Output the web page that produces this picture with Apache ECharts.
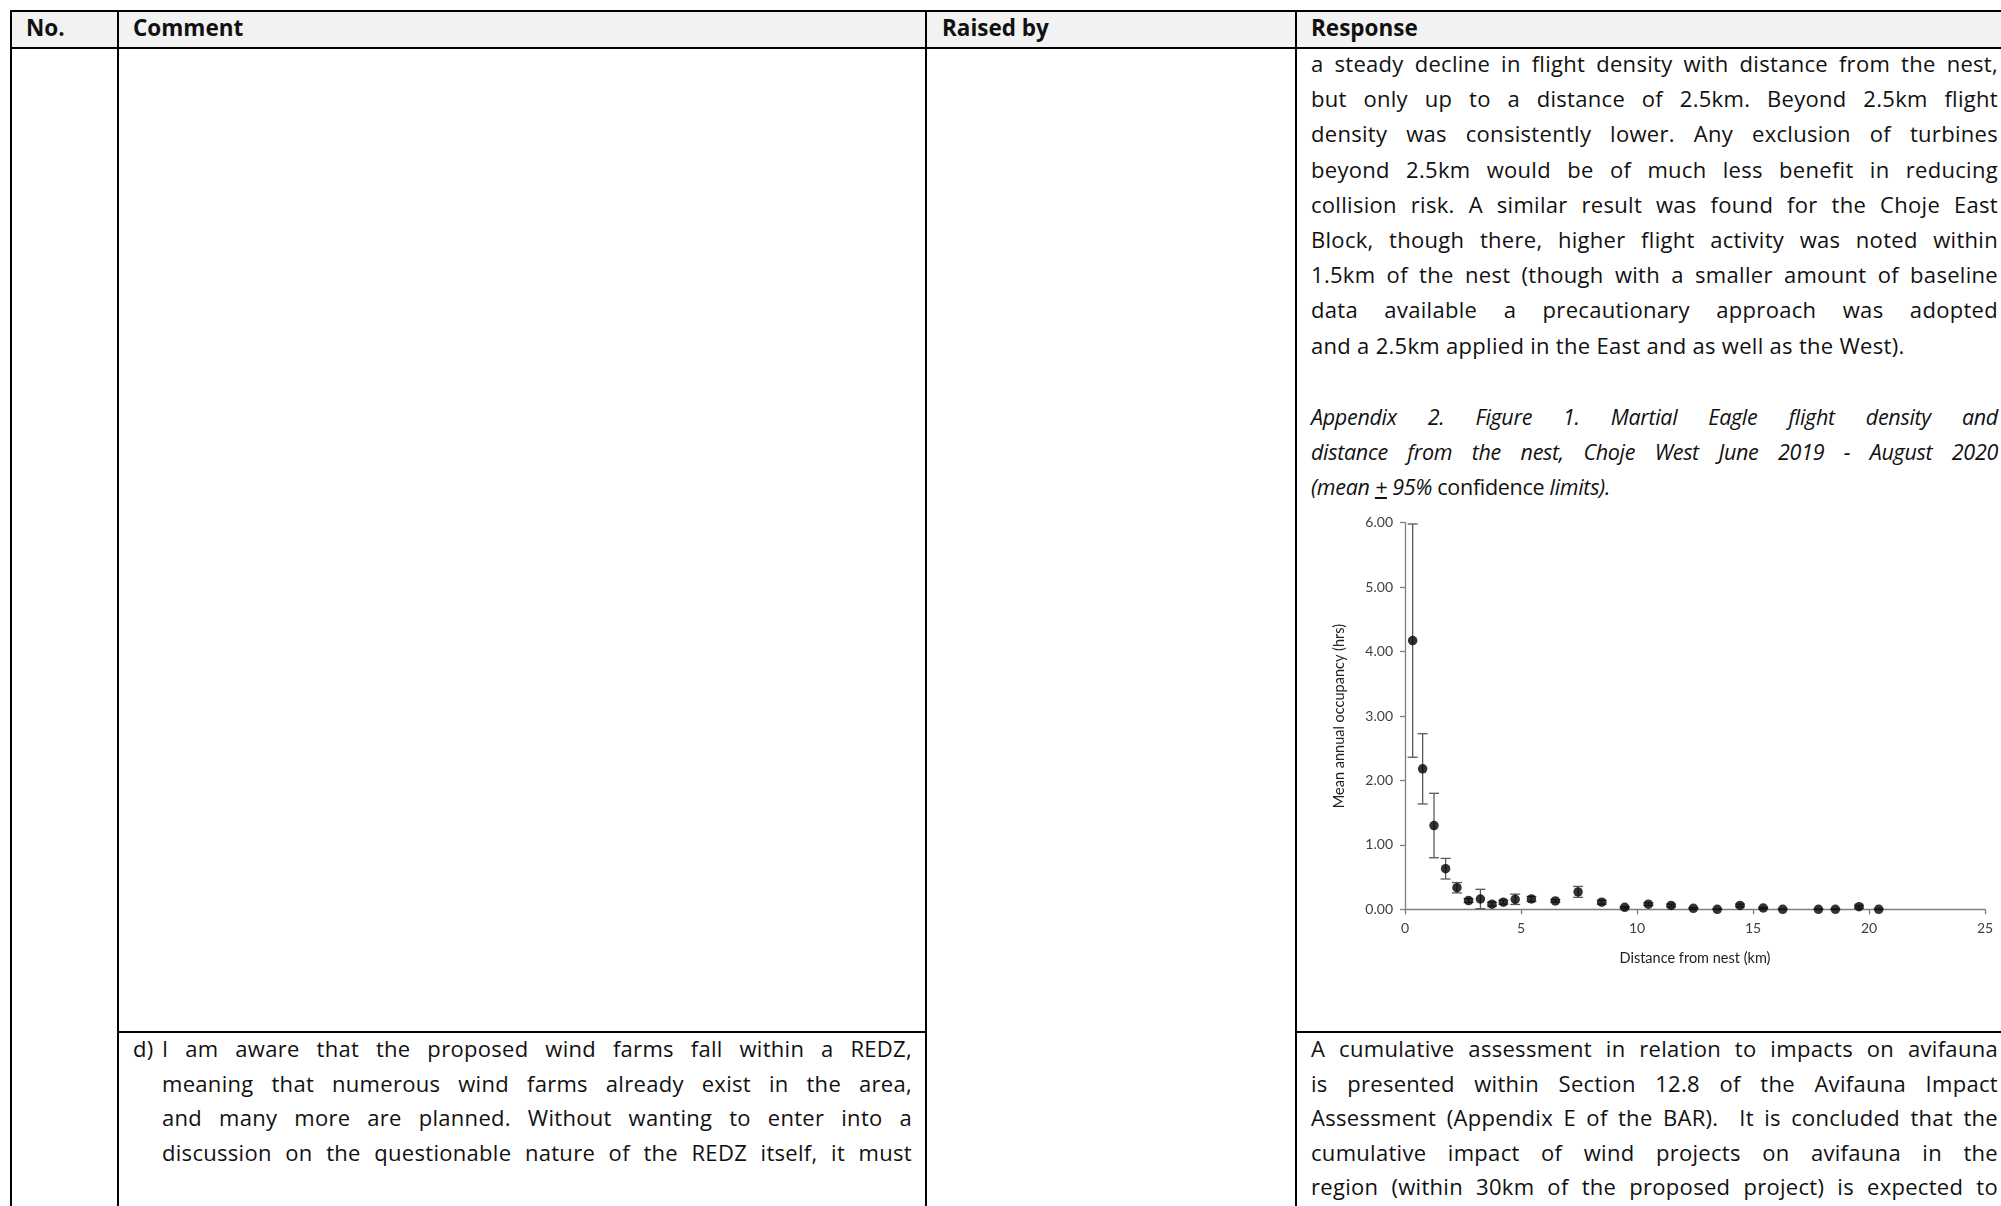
<!DOCTYPE html>
<html>
<head>
<meta charset="utf-8">
<script src="https://cdn.jsdelivr.net/npm/echarts@6/dist/echarts.min.js"></script>
<style>
  html, body { margin: 0; padding: 0; background: #fff; }
  body { width: 2001px; height: 1206px; position: relative; overflow: hidden;
         font-family: "Open Sans", sans-serif; color: #111; }
  .hline, .vline { position: absolute; background: #000; }
  .head { position: absolute; top: 11px; left: 11px; right: 0; height: 37px; background: #f2f2f2; }
  .htxt { position: absolute; top: 12px; font-weight: bold; font-size: 22.5px; line-height: 32px; }
  .para { position: absolute; font-size: 22px; letter-spacing: 0.3px; }
  .para div { text-align: justify; text-align-last: justify; white-space: normal; }
  .para div.last { text-align: left; text-align-last: left; }
  .cap { font-style: italic; font-size: 21.5px; letter-spacing: -0.3px; }
  .up { font-style: normal; }
  #chart { position: absolute; left: 1300px; top: 490px; width: 701px; height: 510px; }
</style>
</head>
<body>
<div class="head"></div>

<!-- table rules -->
<div class="hline" style="left:11px; right:0; top:10px; height:2px;"></div>
<div class="hline" style="left:11px; right:0; top:47px; height:2px;"></div>
<div class="vline" style="left:10px; top:10px; bottom:0; width:2px;"></div>
<div class="vline" style="left:117px; top:10px; bottom:0; width:2px;"></div>
<div class="vline" style="left:925px; top:10px; bottom:0; width:2px;"></div>
<div class="vline" style="left:1295px; top:10px; bottom:0; width:2px;"></div>
<div class="hline" style="left:117px; width:810px; top:1031px; height:2px;"></div>
<div class="hline" style="left:1295px; right:0; top:1031px; height:2px;"></div>

<div class="htxt" style="left:26px;">No.</div>
<div class="htxt" style="left:133px;">Comment</div>
<div class="htxt" style="left:942px;">Raised by</div>
<div class="htxt" style="left:1311px;">Response</div>

<div id="respTop" class="para" style="left:1311px; width:687px; top:46px; line-height:35.2px;"></div>
<div id="caption" class="para cap" style="left:1311px; width:687px; top:399px; line-height:35px;"></div>
<div class="para" style="left:133px; top:1031px; line-height:34.6px;">d)</div>
<div id="commentD" class="para" style="left:162px; width:750px; top:1031px; line-height:34.6px;"></div>
<div id="respBottom" class="para" style="left:1311px; width:687px; top:1031px; line-height:34.6px;"></div>

<div id="chart"></div>

<script>
// Text of the response and comment cells, one entry per printed line
const responseTopLines = [
  "a steady decline in flight density with distance from the nest,",
  "but only up to a distance of 2.5km. Beyond 2.5km flight",
  "density was consistently lower. Any exclusion of turbines",
  "beyond 2.5km would be of much less benefit in reducing",
  "collision risk. A similar result was found for the Choje East",
  "Block, though there, higher flight activity was noted within",
  "1.5km of the nest (though with a smaller amount of baseline",
  "data available a precautionary approach was adopted",
  "and a 2.5km applied in the East and as well as the West)."
];
const captionLines = [
  "Appendix 2. Figure 1. Martial Eagle flight density and",
  "distance from the nest, Choje West June 2019 - August 2020",
  "(mean <u>+</u> 95% <span class=\"up\">confidence</span> limits)."
];
const commentDLines = [
  "I am aware that the proposed wind farms fall within a REDZ,",
  "meaning that numerous wind farms already exist in the area,",
  "and many more are planned. Without wanting to enter into a",
  "discussion on the questionable nature of the REDZ itself, it must"
];
const responseBottomLines = [
  "A cumulative assessment in relation to impacts on avifauna",
  "is presented within Section 12.8 of the Avifauna Impact",
  "Assessment (Appendix E of the BAR).&nbsp; It is concluded that the",
  "cumulative impact of wind projects on avifauna in the",
  "region (within 30km of the proposed project) is expected to"
];

// Mean annual occupancy by distance band (mean and 95% CI half-width)
const distanceKm = [0.33, 0.76, 1.25, 1.75, 2.24, 2.74, 3.25, 3.75, 4.24, 4.75, 5.45, 6.48, 7.46,
                    8.48, 9.47, 10.49, 11.47, 12.43, 13.46, 14.44, 15.44, 16.28, 17.82, 18.55, 19.57, 20.42];
const meanHrs = [4.17, 2.18, 1.30, 0.63, 0.335, 0.135, 0.16, 0.08, 0.11, 0.155, 0.16, 0.13, 0.27,
                 0.11, 0.03, 0.08, 0.06, 0.015, 0.0, 0.06, 0.02, 0.0, 0.0, 0.0, 0.04, 0.0];
const ci95 = [1.81, 0.545, 0.50, 0.16, 0.08, 0.03, 0.15, 0.03, 0.03, 0.08, 0.04, 0.02, 0.085,
              0.03, 0.01, 0.02, 0.02, 0.01, 0.0, 0.02, 0.01, 0.0, 0.0, 0.0, 0.02, 0.0];
const xTicks = { min: 0, max: 25, interval: 5 };
const yTicks = { min: 0, max: 6, interval: 1 };

function fillLines(id, lines, lastLeft) {
  const box = document.getElementById(id);
  lines.forEach((t, i) => {
    const d = document.createElement('div');
    d.innerHTML = t;
    if (lastLeft && i === lines.length - 1) d.className = 'last';
    box.appendChild(d);
  });
}
fillLines('respTop', responseTopLines, true);
fillLines('caption', captionLines, true);
fillLines('commentD', commentDLines, false);
fillLines('respBottom', responseBottomLines, false);

const points = distanceKm.map((x, i) => [x, meanHrs[i]]);
const bars = distanceKm.map((x, i) => [x, meanHrs[i] - ci95[i], meanHrs[i] + ci95[i]]);

const axisFont = { fontFamily: 'Lato, sans-serif', fontSize: 14, color: '#404040' };
const chart = echarts.init(document.getElementById('chart'), null, { renderer: 'canvas' });
chart.setOption({
  animation: false,
  grid: { left: 105, top: 32.7, width: 580, height: 386.6 },
  xAxis: {
    type: 'value', min: xTicks.min, max: xTicks.max, interval: xTicks.interval,
    name: 'Distance from nest (km)', nameLocation: 'middle', nameGap: 42,
    nameTextStyle: Object.assign({}, axisFont, { fontSize: 14.5, color: '#222' }),
    axisLine: { lineStyle: { color: '#7f7f7f', width: 1.3 } },
    axisTick: { inside: false, length: 5, lineStyle: { color: '#7f7f7f', width: 1.3 } },
    axisLabel: Object.assign({ margin: 12 }, axisFont),
    splitLine: { show: false }
  },
  yAxis: {
    type: 'value', min: yTicks.min, max: yTicks.max, interval: yTicks.interval,
    name: 'Mean annual occupancy (hrs)', nameLocation: 'middle', nameGap: 58,
    nameTextStyle: Object.assign({}, axisFont, { fontSize: 14.5, color: '#222' }),
    axisLine: { show: true, lineStyle: { color: '#7f7f7f', width: 1.3 } },
    axisTick: { show: true, inside: false, length: 5, lineStyle: { color: '#7f7f7f', width: 1.3 } },
    axisLabel: Object.assign({ margin: 12, formatter: v => v.toFixed(2) }, axisFont),
    splitLine: { show: false }
  },
  series: [
    {
      type: 'custom',
      data: bars,
      z: 2,
      renderItem: function (params, api) {
        const x = api.value(0);
        const lo = api.coord([x, api.value(1)]);
        const hi = api.coord([x, api.value(2)]);
        const hw = 5;
        const style = { stroke: '#595959', lineWidth: 1.3 };
        return {
          type: 'group',
          children: [
            { type: 'line', shape: { x1: lo[0], y1: lo[1], x2: hi[0], y2: hi[1] }, style: style },
            { type: 'line', shape: { x1: hi[0] - hw, y1: hi[1], x2: hi[0] + hw, y2: hi[1] }, style: style },
            { type: 'line', shape: { x1: lo[0] - hw, y1: lo[1], x2: lo[0] + hw, y2: lo[1] }, style: style }
          ]
        };
      }
    },
    {
      type: 'scatter',
      data: points,
      symbol: 'circle',
      symbolSize: 9.5,
      z: 3,
      itemStyle: { color: '#000' }
    }
  ]
});
</script>
</body>
</html>
